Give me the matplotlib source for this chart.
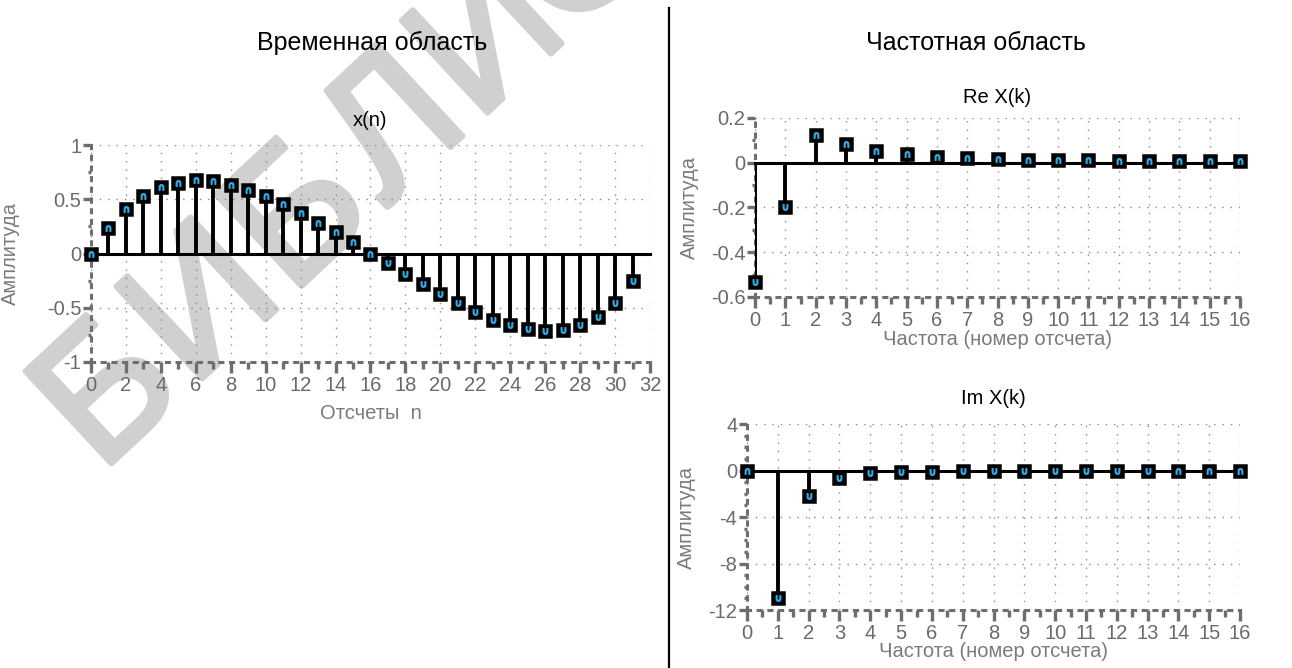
import matplotlib
matplotlib.use("Agg")
import matplotlib.pyplot as plt
import matplotlib.patheffects as pe
import numpy as np
from matplotlib.ticker import MultipleLocator

plt.rcParams['font.family'] = ['Liberation Sans', 'DejaVu Sans']
plt.rcParams['axes.unicode_minus'] = False

# ---- data ----
n_idx = list(range(32))
x_n = [0.0, 0.232, 0.413, 0.532, 0.612, 0.654, 0.673, 0.664, 0.636, 0.581,
       0.526, 0.456, 0.373, 0.284, 0.199, 0.107, 0.0, -0.092, -0.19, -0.278,
       -0.37, -0.459, -0.538, -0.612, -0.657, -0.697, -0.718, -0.709, -0.657,
       -0.581, -0.453, -0.254]
k_idx = list(range(17))
re_X = [-0.535, -0.2, 0.124, 0.085, 0.052, 0.037, 0.027, 0.021, 0.018, 0.012,
        0.011, 0.01, 0.008, 0.008, 0.008, 0.008, 0.008]
im_X = [0.0, -11.0, -2.15, -0.64, -0.25, -0.14, -0.1, -0.05, -0.03, -0.02,
        -0.02, -0.01, -0.01, -0.01, 0.0, 0.0, 0.0]

title_left = "Временная область"
title_right = "Частотная область"
watermark = "БИБЛИОТЕКА"

TICK_C = '#6a6a6a'
LAB_C = '#7a7a7a'
GRID_C = '#8a8a8a'
SPINE_C = '#6e6e6e'
WM_C = '#d0d0d0'

W, H = 1292, 668
fig = plt.figure(figsize=(W / 100, H / 100), dpi=100)

# watermark (behind everything): letters spaced along a diagonal
wm_angle = 43.0
wm_pitch = 130.0
wm_x0, wm_y0 = 112.0, 398.0
for i, ch in enumerate(watermark):
    px = wm_x0 + i * wm_pitch * np.cos(np.radians(wm_angle))
    py = wm_y0 - i * wm_pitch * np.sin(np.radians(wm_angle))
    if py < -120:
        break
    fig.text(px / W, 1 - py / H, ch, rotation=wm_angle, rotation_mode='anchor',
             ha='center', va='center', fontsize=132, color=WM_C, zorder=-5,
             path_effects=[pe.withStroke(linewidth=4, foreground=WM_C)])


def style(ax, xlim, ylim, xmaj, xmin, ymaj, ymin, title, ty, xlabel, xly, ylx):
    ax.set_facecolor('none')
    ax.set_xlim(*xlim)
    ax.set_ylim(*ylim)
    ax.xaxis.set_major_locator(MultipleLocator(xmaj))
    ax.xaxis.set_minor_locator(MultipleLocator(xmin))
    ax.yaxis.set_major_locator(MultipleLocator(ymaj))
    ax.yaxis.set_minor_locator(MultipleLocator(ymin))
    ax.grid(True, which='major', linestyle=(0, (1, 5)), color=GRID_C, linewidth=1.0)
    for s in ['top', 'right']:
        ax.spines[s].set_visible(False)
    for s in ['left', 'bottom']:
        ax.spines[s].set_linestyle((0, (1, 2.5)))
        ax.spines[s].set_linewidth(2.2)
        ax.spines[s].set_color(SPINE_C)
    ax.tick_params(axis='x', which='major', direction='out', length=8, width=2.4,
                   color=SPINE_C, labelcolor=TICK_C, labelsize=14.5, pad=2)
    ax.tick_params(axis='x', which='minor', direction='out', length=5, width=2.4,
                   color=SPINE_C)
    ax.tick_params(axis='y', which='major', direction='out', length=6, width=2.4,
                   color=SPINE_C, labelcolor=TICK_C, labelsize=14.5, pad=1)
    ax.tick_params(axis='y', which='minor', direction='out', length=2.5, width=2.4,
                   color=SPINE_C)
    ax.text(0.5, ty, title, transform=ax.transAxes, ha='center', va='center',
            fontsize=14.5, color='black')
    ax.set_xlabel(xlabel, fontsize=14.5, color=LAB_C)
    ax.xaxis.set_label_coords(0.5, xly)
    ax.set_ylabel("Амплитуда", fontsize=14.5, color=LAB_C)
    ax.yaxis.set_label_coords(ylx, 0.5)


def stems(ax, xs, ys, x_end):
    ax.plot([0, x_end], [0, 0], color='black', linewidth=2.2, zorder=3, clip_on=False)
    ax.vlines(xs, 0, ys, color='black', linewidth=2.8, zorder=3)
    ax.plot(xs, ys, linestyle='none', marker='s', markersize=8,
            markerfacecolor='black', markeredgecolor='black', markeredgewidth=1.8,
            zorder=4, clip_on=False)
    xs_a = np.array(xs)
    ys_a = np.array(ys)
    pos = ys_a >= 0
    ax.plot(xs_a[pos], ys_a[pos], linestyle='none', marker=r'$\cap$', markersize=4,
            color='#2aa8e0', zorder=5, clip_on=False)
    ax.plot(xs_a[~pos], ys_a[~pos], linestyle='none', marker=r'$\cup$', markersize=4,
            color='#2aa8e0', zorder=5, clip_on=False)


ax1 = fig.add_axes([0.0704, 0.4581, 0.4327, 0.3248])
style(ax1, (0, 32), (-1, 1), 2, 1, 0.5, 0.25, "x(n)", 1.115, "Отсчеты  n", -0.194, -0.127)
ax1.set_yticks([-1, -0.5, 0, 0.5, 1])
ax1.set_yticklabels(['-1', '-0.5', '0', '0.5', '1'])
stems(ax1, n_idx, x_n, 32)

ax2 = fig.add_axes([0.5844, 0.5554, 0.3754, 0.2680])
style(ax2, (0, 16), (-0.6, 0.2), 1, 0.5, 0.2, 0.1, "Re X(k)", 1.117,
      "Частота (номер отсчета)", -0.184, -0.116)
ax2.set_yticks([-0.6, -0.4, -0.2, 0, 0.2])
ax2.set_yticklabels(['-0.6', '-0.4', '-0.2', '0', '0.2'])
stems(ax2, k_idx, re_X, 16)

ax3 = fig.add_axes([0.5782, 0.0868, 0.3816, 0.2784])
style(ax3, (0, 16), (-12, 4), 1, 0.5, 4, 1, "Im X(k)", 1.14,
      "Частота (номер отсчета)", -0.172, -0.103)
stems(ax3, k_idx, im_X, 16)

fig.text(0.288, 0.935, title_left, ha='center', va='center', fontsize=18, color='black')
fig.text(0.755, 0.935, title_right, ha='center', va='center', fontsize=18, color='black')

fig.add_artist(plt.Line2D([0.518, 0.518], [0.0, 0.988], color='black', linewidth=1.6,
                          transform=fig.transFigure))

fig.savefig("out.png", dpi=100)
